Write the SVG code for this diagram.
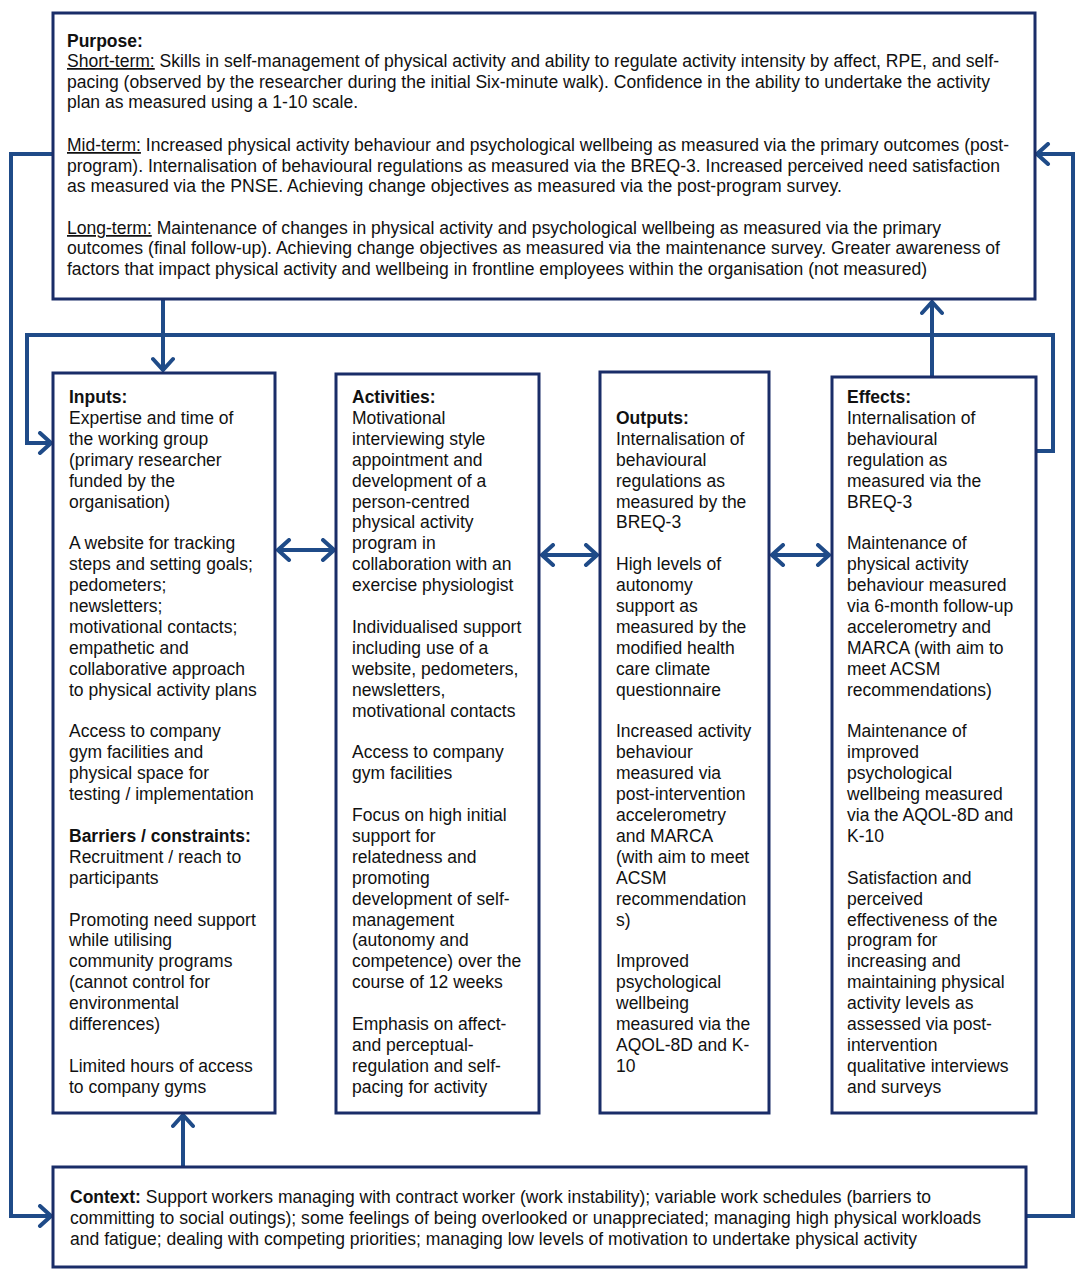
<svg xmlns="http://www.w3.org/2000/svg" width="1084" height="1279" viewBox="0 0 1084 1279">
<style>
  .box { fill: #ffffff; stroke: #1a2d68; stroke-width: 3; }
  .conn { fill: none; stroke: #1f4b88; stroke-width: 4; stroke-linejoin: miter; }
  .bt { font-family: "Liberation Sans", Arial, sans-serif; font-size: 17.5px; fill: #111111; }
  .nt { font-family: "Liberation Sans Narrow", "Liberation Sans", Arial, sans-serif; font-size: 17.5px; fill: #111111; }
  .b { font-weight: bold; }
  .u { text-decoration: underline; }
</style>
<defs>
  <marker id="arr" viewBox="0 0 16 24" markerWidth="16" markerHeight="24" markerUnits="userSpaceOnUse" refX="14" refY="12" orient="auto-start-reverse">
    <path d="M3,2 L14,12 L3,22" fill="none" stroke="#1f4b88" stroke-width="4" stroke-linecap="round" stroke-linejoin="miter"/>
  </marker>
</defs>
<rect width="1084" height="1279" fill="#ffffff"/>

<g id="connectors">
  <line class="conn" x1="163" y1="299" x2="163" y2="370" marker-end="url(#arr)"/>
  <line class="conn" x1="932" y1="376" x2="932" y2="302" marker-end="url(#arr)"/>
  <polyline class="conn" points="1036,451 1053,451 1053,335 27,335 27,443 51,443" marker-end="url(#arr)"/>
  <polyline class="conn" points="52,154 11,154 11,1216 51,1216" marker-end="url(#arr)"/>
  <polyline class="conn" points="1026,1216 1073,1216 1073,154 1037,154" marker-end="url(#arr)"/>
  <line class="conn" x1="183" y1="1167" x2="183" y2="1115" marker-end="url(#arr)"/>
  <line class="conn" x1="278" y1="550" x2="334" y2="550" marker-start="url(#arr)" marker-end="url(#arr)"/>
  <line class="conn" x1="542" y1="555" x2="597" y2="555" marker-start="url(#arr)" marker-end="url(#arr)"/>
  <line class="conn" x1="772" y1="555" x2="829" y2="555" marker-start="url(#arr)" marker-end="url(#arr)"/>
</g>

<g id="purpose">
  <rect class="box" x="53" y="13" width="982" height="286"/>
  <text class="nt b" x="67" y="47">Purpose:</text>
  <text class="nt" x="67" y="67" textLength="932" lengthAdjust="spacingAndGlyphs"><tspan class="u">Short-term:</tspan> Skills in self-management of physical activity and ability to regulate activity intensity by affect, RPE, and self-</text>
  <text class="nt" x="67" y="88" textLength="923" lengthAdjust="spacingAndGlyphs">pacing (observed by the researcher during the initial Six-minute walk). Confidence in the ability to undertake the activity</text>
  <text class="nt" x="67" y="108" textLength="291" lengthAdjust="spacingAndGlyphs">plan as measured using a 1-10 scale.</text>
  <text class="nt" x="67" y="151" textLength="942" lengthAdjust="spacingAndGlyphs"><tspan class="u">Mid-term:</tspan> Increased physical activity behaviour and psychological wellbeing as measured via the primary outcomes (post-</text>
  <text class="nt" x="67" y="172" textLength="933" lengthAdjust="spacingAndGlyphs">program). Internalisation of behavioural regulations as measured via the BREQ-3. Increased perceived need satisfaction</text>
  <text class="nt" x="67" y="192" textLength="775" lengthAdjust="spacingAndGlyphs">as measured via the PNSE. Achieving change objectives as measured via the post-program survey.</text>
  <text class="nt" x="67" y="234" textLength="874" lengthAdjust="spacingAndGlyphs"><tspan class="u">Long-term:</tspan> Maintenance of changes in physical activity and psychological wellbeing as measured via the primary</text>
  <text class="nt" x="67" y="254" textLength="933" lengthAdjust="spacingAndGlyphs">outcomes (final follow-up). Achieving change objectives as measured via the maintenance survey. Greater awareness of</text>
  <text class="nt" x="67" y="275" textLength="860" lengthAdjust="spacingAndGlyphs">factors that impact physical activity and wellbeing in frontline employees within the organisation (not measured)</text>
</g>

<g id="inputs">
  <rect class="box" x="53" y="373" width="222" height="740"/>
  <text class="bt" x="69">
    <tspan class="b" x="69" y="403">Inputs:</tspan>
    <tspan x="69" y="423.9">Expertise and time of</tspan>
    <tspan x="69" y="444.8">the working group</tspan>
    <tspan x="69" y="465.7">(primary researcher</tspan>
    <tspan x="69" y="486.6">funded by the</tspan>
    <tspan x="69" y="507.5">organisation)</tspan>
    <tspan x="69" y="549.3">A website for tracking</tspan>
    <tspan x="69" y="570.2">steps and setting goals;</tspan>
    <tspan x="69" y="591.1">pedometers;</tspan>
    <tspan x="69" y="612">newsletters;</tspan>
    <tspan x="69" y="632.9">motivational contacts;</tspan>
    <tspan x="69" y="653.8">empathetic and</tspan>
    <tspan x="69" y="674.7">collaborative approach</tspan>
    <tspan x="69" y="695.6">to physical activity plans</tspan>
    <tspan x="69" y="737.4">Access to company</tspan>
    <tspan x="69" y="758.3">gym facilities and</tspan>
    <tspan x="69" y="779.2">physical space for</tspan>
    <tspan x="69" y="800.1">testing / implementation</tspan>
    <tspan class="b" x="69" y="841.9">Barriers / constraints:</tspan>
    <tspan x="69" y="862.8">Recruitment / reach to</tspan>
    <tspan x="69" y="883.7">participants</tspan>
    <tspan x="69" y="925.5">Promoting need support</tspan>
    <tspan x="69" y="946.4">while utilising</tspan>
    <tspan x="69" y="967.3">community programs</tspan>
    <tspan x="69" y="988.2">(cannot control for</tspan>
    <tspan x="69" y="1009.1">environmental</tspan>
    <tspan x="69" y="1030">differences)</tspan>
    <tspan x="69" y="1071.8">Limited hours of access</tspan>
    <tspan x="69" y="1092.7">to company gyms</tspan>
  </text>
</g>

<g id="activities">
  <rect class="box" x="336" y="374" width="203" height="739"/>
  <text class="bt" x="352">
    <tspan class="b" x="352" y="403">Activities:</tspan>
    <tspan x="352" y="423.9">Motivational</tspan>
    <tspan x="352" y="444.8">interviewing style</tspan>
    <tspan x="352" y="465.7">appointment and</tspan>
    <tspan x="352" y="486.6">development of a</tspan>
    <tspan x="352" y="507.5">person-centred</tspan>
    <tspan x="352" y="528.4">physical activity</tspan>
    <tspan x="352" y="549.3">program in</tspan>
    <tspan x="352" y="570.2">collaboration with an</tspan>
    <tspan x="352" y="591.1">exercise physiologist</tspan>
    <tspan x="352" y="632.9">Individualised support</tspan>
    <tspan x="352" y="653.8">including use of a</tspan>
    <tspan x="352" y="674.7">website, pedometers,</tspan>
    <tspan x="352" y="695.6">newsletters,</tspan>
    <tspan x="352" y="716.5">motivational contacts</tspan>
    <tspan x="352" y="758.3">Access to company</tspan>
    <tspan x="352" y="779.2">gym facilities</tspan>
    <tspan x="352" y="821">Focus on high initial</tspan>
    <tspan x="352" y="841.9">support for</tspan>
    <tspan x="352" y="862.8">relatedness and</tspan>
    <tspan x="352" y="883.7">promoting</tspan>
    <tspan x="352" y="904.6">development of self-</tspan>
    <tspan x="352" y="925.5">management</tspan>
    <tspan x="352" y="946.4">(autonomy and</tspan>
    <tspan x="352" y="967.3">competence) over the</tspan>
    <tspan x="352" y="988.2">course of 12 weeks</tspan>
    <tspan x="352" y="1030">Emphasis on affect-</tspan>
    <tspan x="352" y="1050.9">and perceptual-</tspan>
    <tspan x="352" y="1071.8">regulation and self-</tspan>
    <tspan x="352" y="1092.7">pacing for activity</tspan>
  </text>
</g>

<g id="outputs">
  <rect class="box" x="600" y="372" width="169" height="741"/>
  <text class="bt" x="616">
    <tspan class="b" x="616" y="423.9">Outputs:</tspan>
    <tspan x="616" y="444.8">Internalisation of</tspan>
    <tspan x="616" y="465.7">behavioural</tspan>
    <tspan x="616" y="486.6">regulations as</tspan>
    <tspan x="616" y="507.5">measured by the</tspan>
    <tspan x="616" y="528.4">BREQ-3</tspan>
    <tspan x="616" y="570.2">High levels of</tspan>
    <tspan x="616" y="591.1">autonomy</tspan>
    <tspan x="616" y="612">support as</tspan>
    <tspan x="616" y="632.9">measured by the</tspan>
    <tspan x="616" y="653.8">modified health</tspan>
    <tspan x="616" y="674.7">care climate</tspan>
    <tspan x="616" y="695.6">questionnaire</tspan>
    <tspan x="616" y="737.4">Increased activity</tspan>
    <tspan x="616" y="758.3">behaviour</tspan>
    <tspan x="616" y="779.2">measured via</tspan>
    <tspan x="616" y="800.1">post-intervention</tspan>
    <tspan x="616" y="821">accelerometry</tspan>
    <tspan x="616" y="841.9">and MARCA</tspan>
    <tspan x="616" y="862.8">(with aim to meet</tspan>
    <tspan x="616" y="883.7">ACSM</tspan>
    <tspan x="616" y="904.6">recommendation</tspan>
    <tspan x="616" y="925.5">s)</tspan>
    <tspan x="616" y="967.3">Improved</tspan>
    <tspan x="616" y="988.2">psychological</tspan>
    <tspan x="616" y="1009.1">wellbeing</tspan>
    <tspan x="616" y="1030">measured via the</tspan>
    <tspan x="616" y="1050.9">AQOL-8D and K-</tspan>
    <tspan x="616" y="1071.8">10</tspan>
  </text>
</g>

<g id="effects">
  <rect class="box" x="832" y="377" width="204" height="736"/>
  <text class="bt" x="847">
    <tspan class="b" x="847" y="403">Effects:</tspan>
    <tspan x="847" y="423.9">Internalisation of</tspan>
    <tspan x="847" y="444.8">behavioural</tspan>
    <tspan x="847" y="465.7">regulation as</tspan>
    <tspan x="847" y="486.6">measured via the</tspan>
    <tspan x="847" y="507.5">BREQ-3</tspan>
    <tspan x="847" y="549.3">Maintenance of</tspan>
    <tspan x="847" y="570.2">physical activity</tspan>
    <tspan x="847" y="591.1">behaviour measured</tspan>
    <tspan x="847" y="612">via 6-month follow-up</tspan>
    <tspan x="847" y="632.9">accelerometry and</tspan>
    <tspan x="847" y="653.8">MARCA (with aim to</tspan>
    <tspan x="847" y="674.7">meet ACSM</tspan>
    <tspan x="847" y="695.6">recommendations)</tspan>
    <tspan x="847" y="737.4">Maintenance of</tspan>
    <tspan x="847" y="758.3">improved</tspan>
    <tspan x="847" y="779.2">psychological</tspan>
    <tspan x="847" y="800.1">wellbeing measured</tspan>
    <tspan x="847" y="821">via the AQOL-8D and</tspan>
    <tspan x="847" y="841.9">K-10</tspan>
    <tspan x="847" y="883.7">Satisfaction and</tspan>
    <tspan x="847" y="904.6">perceived</tspan>
    <tspan x="847" y="925.5">effectiveness of the</tspan>
    <tspan x="847" y="946.4">program for</tspan>
    <tspan x="847" y="967.3">increasing and</tspan>
    <tspan x="847" y="988.2">maintaining physical</tspan>
    <tspan x="847" y="1009.1">activity levels as</tspan>
    <tspan x="847" y="1030">assessed via post-</tspan>
    <tspan x="847" y="1050.9">intervention</tspan>
    <tspan x="847" y="1071.8">qualitative interviews</tspan>
    <tspan x="847" y="1092.7">and surveys</tspan>
  </text>
</g>

<g id="context">
  <rect class="box" x="53" y="1167" width="973" height="100"/>
  <text class="nt" x="70" y="1203" textLength="861" lengthAdjust="spacingAndGlyphs"><tspan class="b">Context:</tspan> Support workers managing with contract worker (work instability); variable work schedules (barriers to</text>
  <text class="nt" x="70" y="1224" textLength="911" lengthAdjust="spacingAndGlyphs">committing to social outings); some feelings of being overlooked or unappreciated; managing high physical workloads</text>
  <text class="nt" x="70" y="1245" textLength="847" lengthAdjust="spacingAndGlyphs">and fatigue; dealing with competing priorities; managing low levels of motivation to undertake physical activity</text>
</g>
</svg>
